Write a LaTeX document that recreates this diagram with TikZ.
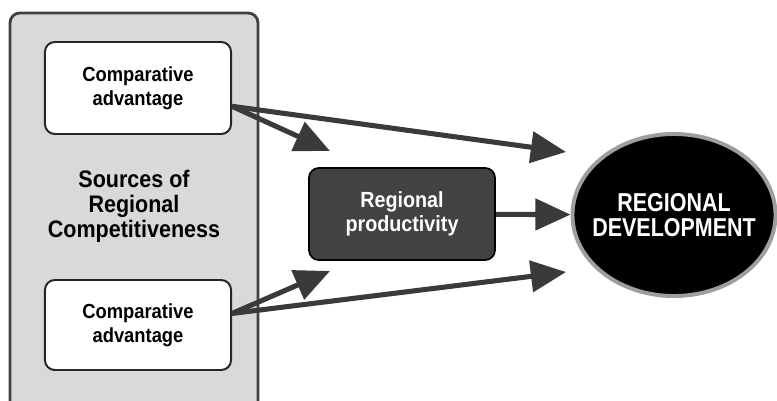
\documentclass[tikz,border=0pt]{standalone}
\usepackage{fontspec}
\setmainfont{Liberation Sans}
\newfontfamily\narrowfont{Liberation Sans}[FakeStretch=0.9]
\newfontfamily\devfont{Liberation Sans}[FakeStretch=0.83]
\usetikzlibrary{arrows.meta,shapes.geometric}

\definecolor{arrowgray}{HTML}{3A3A3A}
\definecolor{panelgray}{HTML}{D9D9D9}
\definecolor{boxdark}{HTML}{424242}

\tikzset{
  srcbox/.style={draw=black!85, line width=1.4pt, fill=white, rounded corners=7pt,
    minimum width=4.65cm, minimum height=2.3cm, align=center,
    font=\narrowfont\fontsize{14.5}{17}\selectfont\bfseries},
  prodbox/.style={draw=black, line width=1.2pt, fill=boxdark, rounded corners=7pt,
    minimum width=4.65cm, minimum height=2.3cm, align=center, text=white,
    font=\narrowfont\fontsize{15.6}{16.8}\selectfont\bfseries},
  devnode/.style={ellipse, draw=black!38, line width=2.8pt, fill=black,
    minimum width=5.075cm, minimum height=4.05cm, inner xsep=-9pt, inner ysep=0pt,
    align=center, text=white,
    font=\devfont\fontsize{18.4}{17.8}\selectfont\bfseries},
  bigarrow/.style={draw=arrowgray, line width=3.6pt,
    -{Triangle[length=25pt,width=22pt]}},
}

\begin{document}
\begin{tikzpicture}[x=0.025cm, y=-0.025cm]
    \clip (0,0) rectangle (777,401);
    \fill[white] (0,0) rectangle (777,401);

    % left panel
    \draw[draw=black!75, line width=2pt, fill=panelgray, rounded corners=7pt] (10,13) rectangle (258,420);
    \node[srcbox] (ca1) at (138,88) {Comparative\\advantage};
    \node[srcbox, minimum height=2.25cm] (ca2) at (138,325) {Comparative\\advantage};
    \node[align=center, font=\narrowfont\fontsize{17}{17.7}\selectfont\bfseries] (src) at (134,206)
        {Sources of\\Regional\\Competitiveness};

    % middle and right
    \node[prodbox] (prod) at (402,214) {Regional\\productivity};
    \node[devnode] (dev) at (674,215) {REGIONAL\\DEVELOPMENT};

    % arrow tips
    \coordinate (t1) at (330,151);
    \coordinate (t2) at (566,152);
    \coordinate (t3) at (566,272);
    \coordinate (t4) at (330,271);

    \draw[bigarrow] (ca1.-11.5) -- (t1);
    \draw[bigarrow] (ca1.-11.5) -- (t2);
    \draw[bigarrow] (ca2.7) -- (t4);
    \draw[bigarrow] (ca2.7) -- (t3);
    \draw[bigarrow] (prod) -- (dev);
\end{tikzpicture}
\end{document}
